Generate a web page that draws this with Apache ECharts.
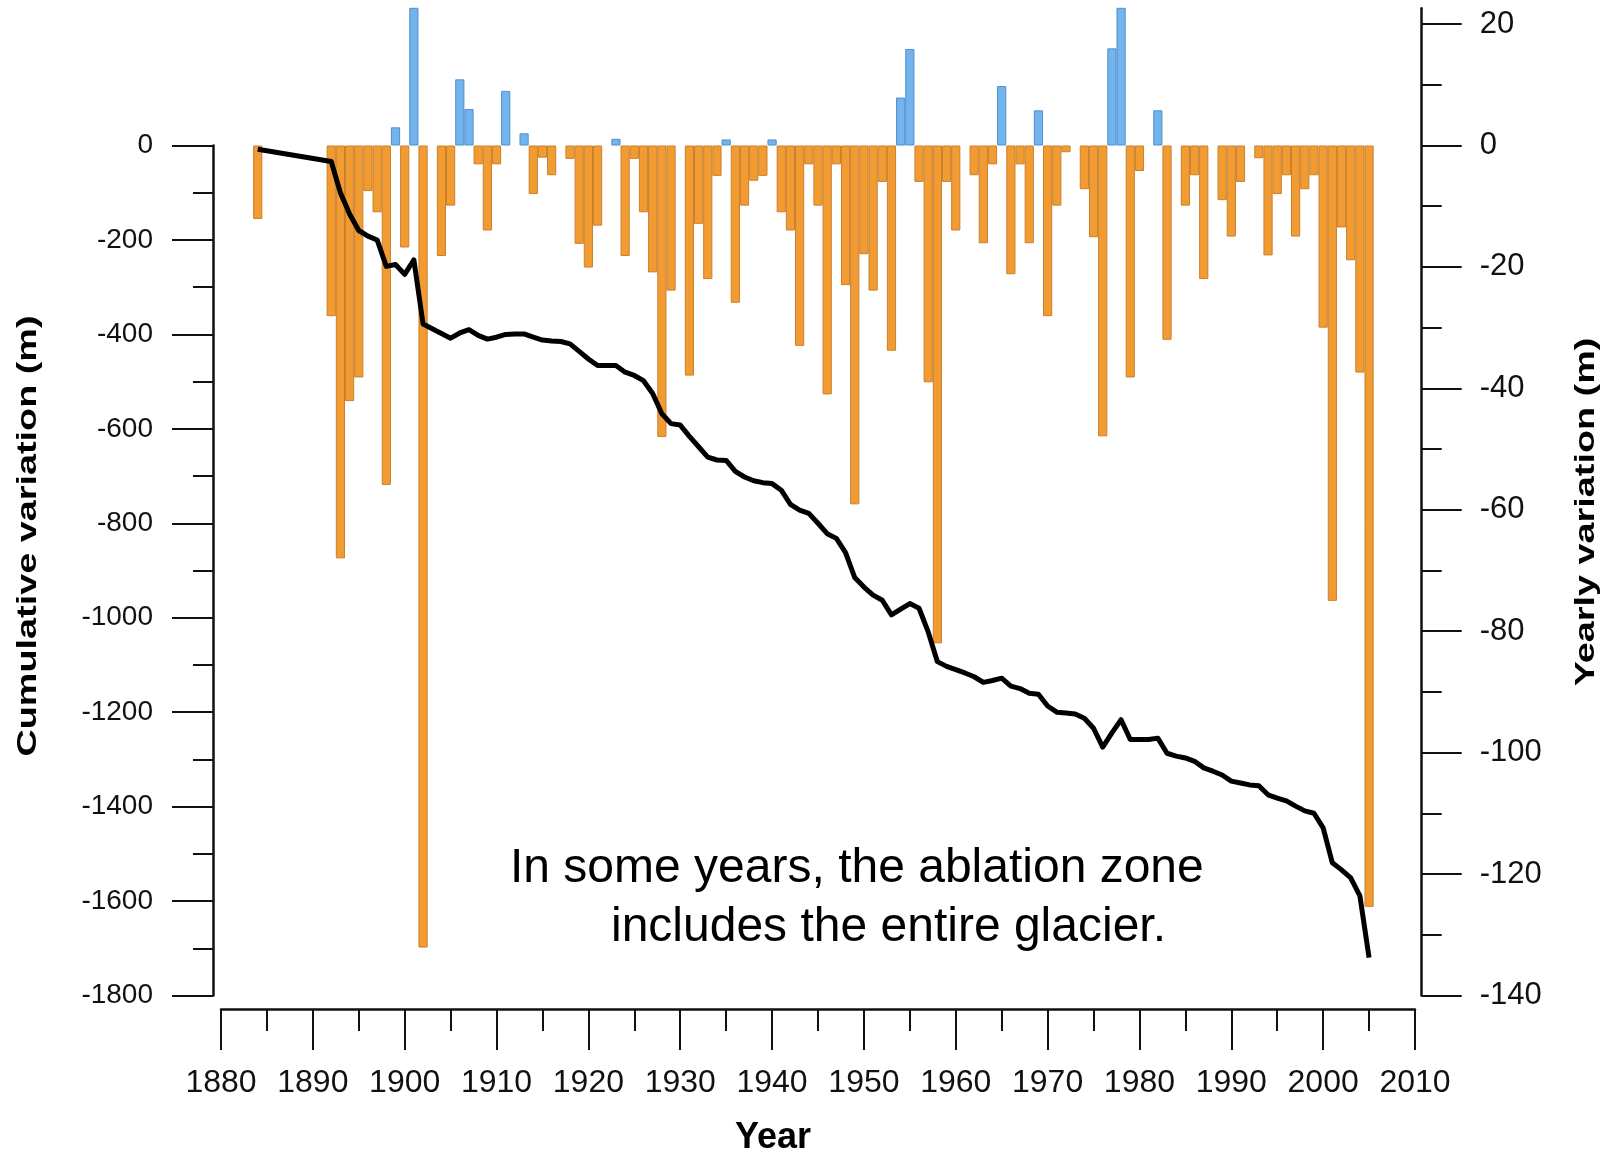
<!DOCTYPE html>
<html>
<head>
<meta charset="utf-8">
<title>Glacier length variation</title>
<script src="https://cdn.jsdelivr.net/npm/echarts/dist/echarts.min.js"></script>
<style>
body { margin: 0; background: #fff; }
#main { width: 1605px; height: 1156px; }
</style>
</head>
<body>
<div id="main"></div>
<script>
// years with a measurement (1885-1891 missing)
var years = [1884,
  1892,1893,1894,1895,1896,1897,1898,1899,1900,1901,
  1902,1903,1904,1905,1906,1907,1908,1909,1910,1911,
  1912,1913,1914,1915,1916,1917,1918,1919,1920,1921,
  1922,1923,1924,1925,1926,1927,1928,1929,1930,1931,
  1932,1933,1934,1935,1936,1937,1938,1939,1940,1941,
  1942,1943,1944,1945,1946,1947,1948,1949,1950,1951,
  1952,1953,1954,1955,1956,1957,1958,1959,1960,1961,
  1962,1963,1964,1965,1966,1967,1968,1969,1970,1971,
  1972,1973,1974,1975,1976,1977,1978,1979,1980,1981,
  1982,1983,1984,1985,1986,1987,1988,1989,1990,1991,
  1992,1993,1994,1995,1996,1997,1998,1999,2000,2001,
  2002,2003,2004,2005];

// yearly variation (m), right axis
var yearly = [-12.1,
  -28.1,-68,-42.1,-38.2,-7.5,-11,-55.9,3,-16.8,26,
  -132.1,null,-18.2,-9.9,10.9,6,-3.1,-14,-3.1,9,
  null,2,-8,-2,-4.9,null,-2.2,-16.2,-20.1,-13.2,
  null,1.1,-18.2,-2.2,-11,-20.9,-48,-23.9,null,-37.9,
  -12.9,-22,-5,1,-25.9,-9.9,-5.8,-5,1,-11,
  -14,-33,-3.1,-9.9,-41,-3.1,-23,-59.1,-17.9,-23.9,
  -6,-33.8,7.9,15.9,-6,-39,-82,-6,-14,null,
  -4.9,-16.1,-3.1,9.8,-21.2,-3.1,-16.1,5.8,-28.1,-9.9,
  -1.1,null,-7.2,-15.1,-47.9,16,26,-38.2,-4.2,null,
  5.8,-32,null,-9.9,-4.9,-22,null,-9,-15,-6,
  null,-2.1,-18.1,-8,-4.9,-15,-7.2,-4.9,-30,-75,
  -13.5,-18.9,-37.4,-125.4];

// cumulative variation (m), left axis
var cumulative = [-8,
  -34,-100,-145,-180,-192,-200,-256,-252,-273,-242,
  -378,-388,-398,-408,-397,-390,-402,-410,-406,-400,
  -399,-399,-406,-412,-414,-415,-420,-436,-452,-466,
  -466,-466,-480,-487,-498,-525,-568,-589,-592,-616,
  -638,-660,-666,-667,-690,-702,-710,-714,-716,-730,
  -760,-772,-779,-800,-822,-832,-862,-915,-935,-952,
  -963,-994,-982,-970,-980,-1030,-1093,-1103,-1110,-1117,
  -1125,-1137,-1133,-1128,-1145,-1150,-1160,-1162,-1187,-1200,
  -1202,-1204,-1213,-1234,-1274,-1244,-1216,-1258,-1258,-1258,
  -1255,-1287,-1293,-1297,-1304,-1318,-1325,-1333,-1346,-1350,
  -1354,-1356,-1375,-1382,-1388,-1399,-1409,-1414,-1445,-1519,
  -1534,-1551,-1589,-1720];

var yearRange = [1880, 2010];
var yearlyRange = [-140, 22.6];
var cumulRange = [-1800, 0];
var yearlyTicks = [-140,-120,-100,-80,-60,-40,-20,0,20];
var yearlyMinorTicks = [-130,-110,-90,-70,-50,-30,-10,10];

var orange = '#f29b33', orangeEdge = '#c9812c';
var blue = '#74b4ec', blueEdge = '#4f90cf';

var barData = [];
for (var i = 0; i < years.length; i++) {
  if (yearly[i] === null) continue;
  var up = yearly[i] >= 0;
  barData.push({
    value: [years[i], yearly[i]],
    itemStyle: { color: up ? blue : orange, borderColor: up ? blueEdge : orangeEdge, borderWidth: 1 }
  });
}
var lineData = years.map(function (y, i) { return [y, cumulative[i]]; });

var axisCol = '#111';
var font = "'Liberation Sans', Arial, sans-serif";
var plain = function (v) { return String(v); };

var myChart = echarts.init(document.getElementById('main'));
var option = {
  backgroundColor: '#fff',
  animation: false,
  grid: [
    { left: 221, right: 190, top: 8.3, bottom: 160.5, outerBoundsMode: 'none' },
    { left: 221, right: 190, top: 145.5, bottom: 160.5, outerBoundsMode: 'none' }
  ],
  xAxis: [
    {
      type: 'value', gridIndex: 0, min: yearRange[0], max: yearRange[1], interval: 10,
      position: 'bottom', offset: 13.5,
      axisLine: { onZero: false, lineStyle: { color: axisCol, width: 2.5 } },
      axisTick: { length: 41, lineStyle: { color: axisCol, width: 2 } },
      minorTick: { show: true, splitNumber: 2, length: 22, lineStyle: { color: axisCol, width: 2 } },
      splitLine: { show: false },
      axisLabel: { margin: 58, color: '#111', fontSize: 32, fontFamily: font, formatter: plain }
    },
    { type: 'value', gridIndex: 1, min: yearRange[0], max: yearRange[1], show: false }
  ],
  yAxis: [
    {
      type: 'value', gridIndex: 0, position: 'right', offset: 6.7,
      min: yearlyRange[0], max: yearlyRange[1], interval: 20,
      axisLine: { show: true, onZero: false, lineStyle: { color: axisCol, width: 2.5 } },
      axisTick: { show: true, length: 40, customValues: yearlyTicks, lineStyle: { color: axisCol, width: 2 } },
      splitLine: { show: false },
      axisLabel: { margin: 58, color: '#111', fontSize: 31, fontFamily: font, customValues: yearlyTicks, formatter: plain }
    },
    {
      type: 'value', gridIndex: 1, position: 'left', offset: 8,
      min: cumulRange[0], max: cumulRange[1], interval: 200,
      axisLine: { show: true, onZero: false, lineStyle: { color: axisCol, width: 2.5 } },
      axisTick: { show: true, length: 41, lineStyle: { color: axisCol, width: 2 } },
      minorTick: { show: true, splitNumber: 2, length: 20, lineStyle: { color: axisCol, width: 2 } },
      splitLine: { show: false },
      axisLabel: { margin: 60, color: '#111', fontSize: 28, fontFamily: font, formatter: plain }
    },
    {
      // minor ticks of the right axis
      type: 'value', gridIndex: 0, position: 'right', offset: 6.7,
      min: yearlyRange[0], max: yearlyRange[1],
      axisLine: { show: false },
      axisTick: { show: true, length: 20, customValues: yearlyMinorTicks, lineStyle: { color: axisCol, width: 2 } },
      axisLabel: { show: false },
      splitLine: { show: false }
    }
  ],
  series: [
    {
      name: 'Yearly variation', type: 'bar', xAxisIndex: 0, yAxisIndex: 0,
      barWidth: 9.2, data: barData, clip: true
    },
    {
      name: 'Cumulative variation', type: 'line', xAxisIndex: 1, yAxisIndex: 1,
      data: lineData, showSymbol: false, clip: false,
      lineStyle: { color: '#000', width: 5, join: 'round' }, z: 5
    }
  ],
  graphic: [
    { type: 'text', x: 28.4, y: 536, rotation: Math.PI / 2, scaleX: 1.35,
      style: { text: 'Cumulative variation (m)', font: 'bold 28px ' + font, fill: '#000', align: 'center', verticalAlign: 'middle' } },
    { type: 'text', x: 1586, y: 512, rotation: Math.PI / 2, scaleX: 1.35,
      style: { text: 'Yearly variation (m)', font: 'bold 28px ' + font, fill: '#000', align: 'center', verticalAlign: 'middle' } },
    { type: 'text', x: 773, y: 1138,
      style: { text: 'Year', font: 'bold 36px ' + font, fill: '#000', align: 'center', verticalAlign: 'middle' } },
    { type: 'text', x: 510, y: 869,
      style: { text: 'In some years, the ablation zone', font: '48px ' + font, fill: '#000', align: 'left', verticalAlign: 'middle' } },
    { type: 'text', x: 611, y: 928,
      style: { text: 'includes the entire glacier.', font: '48px ' + font, fill: '#000', align: 'left', verticalAlign: 'middle' } }
  ]
};
myChart.setOption(option);
</script>
</body>
</html>
